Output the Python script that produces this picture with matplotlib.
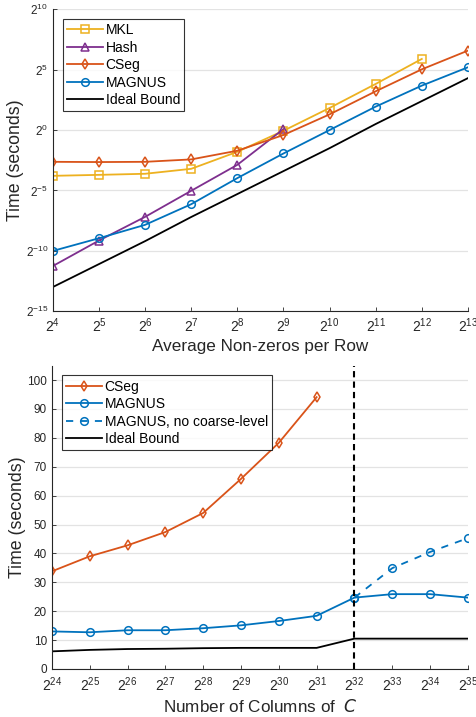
import matplotlib.pyplot as plt
import numpy as np

plt.rcParams['font.family'] = ['Liberation Sans', 'DejaVu Sans']
plt.rcParams['mathtext.default'] = 'regular'

# top panel: time vs average non-zeros per row (log2 exponents)
nnz_exp = [4, 5, 6, 7, 8, 9, 10, 11, 12, 13]
mkl_t = [-3.79, -3.71, -3.62, -3.21, -1.80, -0.06, 1.83, 3.82, 5.89]
hash_t = [-11.26, -9.15, -7.19, -5.03, -2.88, 0.08]
cseg_t = [-2.63, -2.65, -2.63, -2.43, -1.71, -0.41, 1.30, 3.21, 5.03, 6.58]
magnus_t = [-10.01, -8.96, -7.85, -6.14, -3.98, -1.94, 0.0, 1.94, 3.68, 5.20]
ideal_t = [-13.0, -11.1, -9.2, -7.2, -5.3, -3.4, -1.5, 0.5, 2.4, 4.3]

# bottom panel: time vs number of columns of C
cols_exp = [24, 25, 26, 27, 28, 29, 30, 31, 32, 33, 34, 35]
cseg_s = [33.8, 39.0, 42.8, 47.4, 54.0, 65.8, 78.3, 94.1]
magnus_s = [13.0, 12.7, 13.4, 13.4, 14.1, 15.1, 16.6, 18.4, 24.7, 25.9, 25.9, 24.7]
nocoarse_exp = [32, 33, 34, 35]
nocoarse_s = [24.7, 34.9, 40.5, 45.3]
ideal_s = [6.1, 6.6, 6.9, 7.0, 7.2, 7.3, 7.3, 7.3, 10.5, 10.5, 10.5, 10.5]
split_exp = 32

c_mkl = '#EDB120'
c_hash = '#7E2F8E'
c_cseg = '#D95319'
c_mag = '#0072BD'

fig = plt.figure(figsize=(4.76, 7.17), dpi=100)
ax1 = fig.add_axes([0.111, 0.566, 0.872, 0.421])
ax2 = fig.add_axes([0.109, 0.067, 0.874, 0.423])

p2 = lambda e: 2.0 ** np.array(e)

def style(ax):
    ax.spines['top'].set_visible(False)
    ax.spines['right'].set_visible(False)
    for s in ['left', 'bottom']:
        ax.spines[s].set_color('#262626')
        ax.spines[s].set_linewidth(0.8)
    ax.tick_params(direction='in', length=3, width=0.6, labelsize=8.5,
                   colors='#262626', which='major')
    ax.tick_params(which='minor', length=0)
    ax.yaxis.grid(True, color='#e3e3e3', linewidth=0.9)
    ax.set_axisbelow(True)

mk = dict(markersize=5.5, markerfacecolor='none', markeredgewidth=1.1, linewidth=1.3)

ax1.set_xscale('log', base=2)
ax1.set_yscale('log', base=2)
ax1.plot(p2(nnz_exp[:len(mkl_t)]), p2(mkl_t), marker='s', color=c_mkl, label='MKL', **mk)
ax1.plot(p2(nnz_exp[:len(hash_t)]), p2(hash_t), marker='^', color=c_hash, label='Hash', **mk)
ax1.plot(p2(nnz_exp), p2(cseg_t), marker='d', color=c_cseg, label='CSeg', **mk)
ax1.plot(p2(nnz_exp), p2(magnus_t), marker='o', color=c_mag, label='MAGNUS', **mk)
ax1.plot(p2(nnz_exp), p2(ideal_t), color='black', linewidth=1.3, label='Ideal Bound')
ax1.set_xlim(2 ** 4, 2 ** 13)
ax1.set_ylim(2 ** -15, 2 ** 10)
ax1.set_xticks(p2(nnz_exp))
ax1.set_xticklabels(['$2^{%d}$' % e for e in nnz_exp])
yt = [-15, -10, -5, 0, 5, 10]
ax1.set_yticks(p2(yt))
ax1.set_yticklabels(['$2^{%d}$' % e for e in yt])
style(ax1)
ax1.tick_params(axis='x', labelsize=10)
ax1.set_xlabel('Average Non-zeros per Row', fontsize=12.3, color='#262626', labelpad=3)
ax1.set_ylabel('Time (seconds)', fontsize=12.8, color='#262626', labelpad=1)
leg = ax1.legend(loc='upper left', fontsize=10, frameon=True, fancybox=False,
                 edgecolor='black', handlelength=2.6, handletextpad=0.2,
                 borderpad=0.3, labelspacing=0.25, borderaxespad=0.7)
leg.get_frame().set_linewidth(0.8)

ax2.set_xscale('log', base=2)
ax2.plot(p2(cols_exp[:len(cseg_s)]), cseg_s, marker='d', color=c_cseg, label='CSeg', **mk)
ax2.plot(p2(cols_exp), magnus_s, marker='o', color=c_mag, label='MAGNUS', **mk)
ax2.plot(p2(nocoarse_exp), nocoarse_s, marker='o', color=c_mag, linestyle=(0, (4, 4)),
         label='MAGNUS, no coarse-level', **mk)
ax2.plot(p2(cols_exp), ideal_s, color='black', linewidth=1.3, label='Ideal Bound')
ax2.axvline(2 ** split_exp, color='black', linestyle=(0, (3, 2)), linewidth=1.5)
ax2.set_xlim(2 ** 24, 2 ** 35)
ax2.set_ylim(0, 105)
ax2.set_xticks(p2(cols_exp))
ax2.set_xticklabels(['$2^{%d}$' % e for e in cols_exp])
ax2.set_yticks(range(0, 101, 10))
style(ax2)
ax2.tick_params(axis='x', labelsize=10, pad=4.5)
ax2.set_xlabel('Number of Columns of  $\\it{C}$', fontsize=12.3, color='#262626', labelpad=3)
ax2.set_ylabel('Time (seconds)', fontsize=12.8, color='#262626', labelpad=1)
leg2 = ax2.legend(loc='upper left', fontsize=10, frameon=True, fancybox=False,
                  edgecolor='black', handlelength=2.6, handletextpad=0.2,
                  borderpad=0.3, labelspacing=0.25, borderaxespad=0.7)
leg2.get_frame().set_linewidth(0.8)

fig.savefig('out.png', dpi=100)
